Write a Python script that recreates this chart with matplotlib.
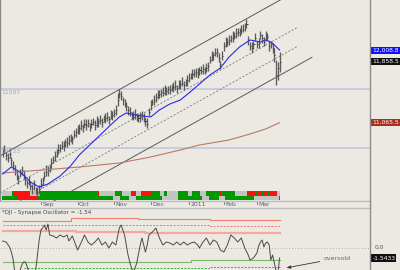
import matplotlib
matplotlib.use('Agg')
import matplotlib.pyplot as plt
from matplotlib import transforms
from matplotlib.patches import Rectangle
from matplotlib.lines import Line2D
import numpy as np

# ------------------------------------------------------------------ data
first_day = -22          # trading-day index of first bar (Sep 1 2010 = 0)
close = [
    10684,10710,10645,10606,10658,10580,10515,10424,10372,10346,10398,10450,10385,10320,10281,10294,10242,10216,10255,10190,
    10164,10203,10268,10320,10372,10424,10450,10476,10541,10580,10632,10684,10710,10736,10762,10775,10814,10801,10840,10866,
    10853,10905,10944,10970,10996,11022,11009,11048,11035,11061,11022,11048,11074,11035,11061,11087,11100,11074,11113,11126,
    11139,11113,11152,11165,11191,11230,11360,11438,11412,11360,11308,11282,11230,11204,11165,11139,11178,11152,11126,11139,
    11165,11126,11087,11048,11204,11295,11334,11360,11399,11425,11438,11464,11451,11490,11477,11503,11490,11516,11529,11542,
    11516,11555,11568,11581,11555,11594,11620,11646,11672,11698,11711,11724,11698,11750,11737,11763,11750,11776,11802,11880,
    11919,11945,11971,11984,11906,11828,11932,12062,12088,12114,12140,12166,12179,12192,12231,12244,12257,12270,12283,12322,
    12348,12140,12062,12036,12088,12166,12088,12101,12205,12166,12114,12192,12179,12062,12088,12036,11945,11685,11776,11858.5,
]
range_up = [
    55,70,40,60,75,45,50,85,60,40,70,55,65,50,45,80,60,55,70,40,
    65,50,75,45,60,85,50,40,70,55,60,45,80,50,65,55,40,75,60,50,
    45,70,55,65,50,80,40,60,75,55,45,70,50,60,85,40,65,55,50,70,
    60,45,75,50,55,65,90,69,60,45,70,55,50,65,45,75,60,40,55,70,
    50,65,45,80,55,60,40,70,50,65,55,45,75,60,50,40,70,55,65,80,
    45,60,50,75,55,40,65,70,45,60,55,50,80,45,65,60,40,70,55,50,
    75,45,60,55,65,40,70,50,85,55,60,45,75,50,65,55,40,70,60,45,
    65,55,50,75,45,60,40,70,55,50,65,60,55,70,45,60,91,195,78,126,
]
range_dn = [
    60,45,70,50,55,80,65,45,50,75,40,60,55,70,65,45,50,80,60,55,
    65,70,50,60,45,55,75,50,65,40,60,70,50,55,45,80,60,50,65,55,
    70,45,60,50,75,55,65,40,60,50,70,55,45,65,50,80,55,60,40,70,
    55,60,45,70,50,60,75,50,55,70,45,60,65,50,55,40,70,60,50,65,
    60,50,70,52,55,65,45,60,70,50,55,60,45,65,50,70,55,45,60,50,
    65,55,70,45,60,50,75,55,45,60,50,65,55,70,45,60,50,55,65,45,
    50,60,45,70,55,65,50,60,45,55,70,50,60,45,65,55,70,50,45,60,
    55,65,50,60,70,45,55,60,50,65,55,70,45,60,50,65,91,130,156,134,
]

month_days = [0, 21, 42, 63, 85, 105, 124]
month_labels = ['Sep', 'Oct', 'Nov', 'Dec', '2011', 'Feb', 'Mar']

ma_fast_days = [-22,-17,-12,-6,-1,4,11,17,22,28,34,40,45,49,54,63,68,74,80,85,91,97,103,108,114,120,126,129,132,134,137]
ma_fast_vals = [10398,10489,10424,10294,10229,10268,10372,10502,10645,10775,10905,11035,11139,11191,11165,11139,
                11230,11308,11360,11451,11568,11685,11776,11919,12049,12140,12114,12140,12114,12075,12008.8]
ma_slow_days = [-22, 1, 22, 45, 63, 80, 91, 108, 120, 129, 137]
ma_slow_vals = [10411, 10450, 10489, 10541, 10619, 10710, 10775, 10840, 10918, 10983, 11065.5]

channel_days = [-23.5, 155.6]
channel_upper = [10632, 12890]
channel_offsets = [0, -481, -728, -975]
channel_end = [155.6, 147, 147, 155.6]

level_values = [11507, 10732]
level_labels = ['11507', '10723']

tag_values = [12008.8, 11858.5, 11065.5]
tag_labels = ['12,008.8', '11,858.5', '11,065.5']

strip_top = [('s',6),('g',1),('r',9),('s',6),('g',33),('r',1),('s',9),('g',4),('s',5),('r',3),('s',3),('r',2),
             ('g',1),('r',3),('g',5),('s',2),('g',2),('s',6),('g',6),('s',2),('g',5),('s',3),('g',8),('r',1),
             ('g',8),('s',7),('r',5),('g',1),('r',2),('g',1),('r',2),('g',2),('r',4),('s',2)]
strip_bot = [('g',9),('r',12),('g',43),('s',4),('g',5),('s',4),('g',15),('s',9),('g',14),('s',4),('g',6),
             ('s',3),('g',17),('s',14),('r',1)]

osc_days = [-22,-20,-18,-17,-16,-15,-13,-11,-10,-9,-8,-7,-5,-3,-2,-1,0,1,2,3,4,5,7,9,11,13,15,16,18,20,21,23,25,27,29,
            31,33,35,37,39,41,43,45,46,48,50,51,52,53,54,55,57,58,60,61,62,64,66,68,70,72,74,76,78,80,82,84,86,88,90,
            91,93,95,97,99,101,103,105,107,109,111,113,115,117,119,120,121,122,124,125,126,127,128,129,130,131,132,133,
            134,135,136,137]
osc_vals = [1.08,0.92,0.15,-0.62,-1.69,-3.69,-4.31,-2.62,-2.15,-2.15,-2.77,-3.69,-4.46,-3.38,-1.08,1.23,2.77,3.08,3.54,
            2.77,3.69,2.0,1.85,1.54,2.0,1.69,2.0,1.08,1.85,0.46,-0.31,0.77,2.0,0.92,0.46,0.92,1.54,0.46,0.92,0.0,0.92,
            0.46,3.08,3.54,2.0,-1.08,-2.15,-3.08,-3.69,-3.08,-2.31,0.46,1.54,-0.62,0.46,2.0,2.46,3.08,1.54,0.46,0.92,
            0.77,0.46,0.92,0.46,0.92,0.46,0.77,0.92,0.46,0.0,0.92,1.54,0.46,1.23,0.92,-0.31,-0.62,0.46,2.0,1.54,0.92,
            1.54,0.0,-1.08,-1.85,-1.69,-1.54,-0.77,0.31,0.92,1.23,0.15,0.77,0.92,0.46,-1.85,-1.08,-2.31,-3.69,-4.0,-1.5433]

band_red_days = [-22, 17, 56, 97, 137]
band_red_vals = [4.15, 4.57, 4.46, 4.31, 4.31]
band_reddash_days = [-22, 97, 137]
band_reddash_vals = [3.5, 3.35, 3.35]
band_pink_days = [-22, 20, 60, 137]
band_pink_vals = [2.55, 2.4, 2.26, 2.26]
band_green_days = [-22, 86, 137]
band_green_vals = [-2.1, -1.85, -1.85]
band_greendash_days = [-10, 97, 137]
band_greendash_vals = [-3.08, -2.88, -2.88]

osc_title = '*DJI - Synapse Oscillator = -1.54'
osc_last = -1.5433
annot_text = 'oversold'
annot_tip = (141, -3.05)
annot_text_pos = (162, -1.6)

# ------------------------------------------------------------------ style / layout
W, H = 400, 270
BG = '#ece9e3'
plt.rcParams['font.family'] = ['DejaVu Sans']
fig = plt.figure(figsize=(4, 2.7), dpi=100, facecolor=BG)

def fy(py):
    return 1 - py / H

main_bottom = 200.7
panel_right = 370
ax = fig.add_axes([0, fy(main_bottom), panel_right / W, main_bottom / H])
ax.set_facecolor(BG)
ax.set_xlim(-23.5, 188.9)
ax.set_ylim(12660 - 13 * main_bottom, 12660)
ax.set_xticks([]); ax.set_yticks([])
for s in ['top', 'right']:
    ax.spines[s].set_visible(False)
ax.spines['left'].set_color('#8a8a8a'); ax.spines['left'].set_linewidth(1.0)
ax.spines['bottom'].set_color('#bdbdbd'); ax.spines['bottom'].set_linewidth(1.0)

trans = transforms.blended_transform_factory(ax.transData, ax.transAxes)
days = np.arange(first_day, first_day + len(close))
c = np.array(close, float)
hi = c + np.array(range_up)
lo = c - np.array(range_dn)

# horizontal levels
for v, lab in zip(level_values, level_labels):
    ax.axhline(v, color='#c5cedb', lw=1.4, zorder=1)
    ax.text(-22.5, v - 12, lab, fontsize=4.3, color='#9aa6ba', va='top', ha='left', zorder=6)

# regression channel
ch_slope = (channel_upper[1] - channel_upper[0]) / (channel_days[1] - channel_days[0])
for off, end, style in zip(channel_offsets, channel_end, ['solid', 'dash', 'dash', 'solid']):
    xs = np.array([channel_days[0], end])
    ys = channel_upper[0] + off + ch_slope * (xs - channel_days[0])
    if style == 'solid':
        ax.plot(xs, ys, color='#5a5a5a', lw=0.7, zorder=2)
    else:
        ax.plot(xs, ys, color='#7a7a7a', lw=0.6, ls=(0, (2.5, 2)), zorder=2)

# signal strip
colmap = {'g': '#009a00', 'r': '#ff1010', 's': '#c3c3c3'}
for runs, (y0, y1) in [(strip_top, (0.0249, 0.0498)), (strip_bot, (0.0035, 0.0249))]:
    d0 = first_day
    for code, n in runs:
        ax.add_patch(Rectangle((d0 - 0.5, y0), n, y1 - y0, transform=trans,
                               facecolor=colmap[code], edgecolor='none', zorder=2.5))
        d0 += n

# price bars
ax.vlines(days, lo, hi, colors='#5c5c5c', lw=0.95, zorder=3)
ax.hlines(c, days, days + 0.6, colors='#3c3c3c', lw=0.7, zorder=3)

# moving averages
ax.plot(ma_slow_days, ma_slow_vals, color='#b8786c', lw=0.8, zorder=4)
ax.plot(ma_fast_days, ma_fast_vals, color='#2a2ae6', lw=0.8, zorder=4)

# month ticks
off = transforms.ScaledTranslation(1.5 / 100, 0, fig.dpi_scale_trans)
for d, lab in zip(month_days, month_labels):
    ax.plot([d, d], [0, -0.016], transform=trans, color='#6a6a80', lw=0.6, clip_on=False)
    ax.text(d, -0.020, lab, transform=trans + off, fontsize=4.4, color='#5a5a78',
            ha='left', va='center', clip_on=False)

# value tags
tag_colors = ['#1010ff', '#101010', '#a8301c']
ytr = transforms.blended_transform_factory(ax.transAxes, ax.transData)
for v, lab, col in zip(tag_values, tag_labels, tag_colors):
    ax.text(1.006, v, lab, transform=ytr, fontsize=4.3, color='white', ha='left', va='center',
            bbox=dict(boxstyle='square,pad=0.18', fc=col, ec='none'), clip_on=False, zorder=7)

# ------------------------------------------------------------------ oscillator panel
osc_top = 208
ax2 = fig.add_axes([0, 0, panel_right / W, (H - osc_top) / H])
ax2.set_facecolor(BG)
ax2.set_xlim(-23.5, 188.9)
ax2.set_ylim(-3.385, 6.154)
ax2.set_xticks([]); ax2.set_yticks([])
for s in ['bottom', 'right', 'left']:
    ax2.spines[s].set_visible(False)
ax2.spines['top'].set_color('#bdbdbd'); ax2.spines['top'].set_linewidth(1.0)

ax2.axhline(0, color='#b0b0b0', lw=0.7, ls=(0, (1, 2)), zorder=1)
ax2.plot(band_red_days, band_red_vals, drawstyle='steps-post', color='#f08070', lw=0.8, zorder=2)
ax2.plot(band_reddash_days, band_reddash_vals, drawstyle='steps-post', color='#f07070', lw=0.7,
         ls=(0, (2, 1.5)), zorder=2)
ax2.plot(band_pink_days, band_pink_vals, drawstyle='steps-post', color='#f4a8a0', lw=1.6, zorder=2)
ax2.plot(band_green_days, band_green_vals, drawstyle='steps-post', color='#7cb86a', lw=0.8, zorder=2)
ax2.plot(band_greendash_days, band_greendash_vals, drawstyle='steps-post', color='#3caa3c', lw=0.7,
         ls=(0, (2, 1.5)), zorder=2)
ax2.plot(osc_days, osc_vals, color='#4a4a4a', lw=0.7, zorder=3)

ax2.text(0.005, 0.92, osc_title, transform=ax2.transAxes, fontsize=4.0, color='#454545',
         ha='left', va='center')
ytr2 = transforms.blended_transform_factory(ax2.transAxes, ax2.transData)
ax2.text(1.013, 0.0, '0.0', transform=ytr2, fontsize=4.3, color='#555555', ha='left', va='center',
         clip_on=False)
ax2.text(1.006, osc_last, f'{osc_last:.4f}', transform=ytr2, fontsize=4.3, color='white', ha='left',
         va='center', bbox=dict(boxstyle='square,pad=0.18', fc='#101010', ec='none'), clip_on=False)
ax2.annotate(annot_text, xy=annot_tip, xytext=annot_text_pos, fontsize=4.5, color='#666666',
             ha='left', va='center',
             arrowprops=dict(arrowstyle='-|>,head_length=0.5,head_width=0.2', color='#333333', lw=0.6,
                             shrinkA=0.5, shrinkB=0))

# right separator line
fig.add_artist(Line2D([panel_right / W] * 2, [0, 1], transform=fig.transFigure, color='#8c8c8c', lw=1.0))

fig.savefig('out.png', dpi=100, facecolor=BG)
